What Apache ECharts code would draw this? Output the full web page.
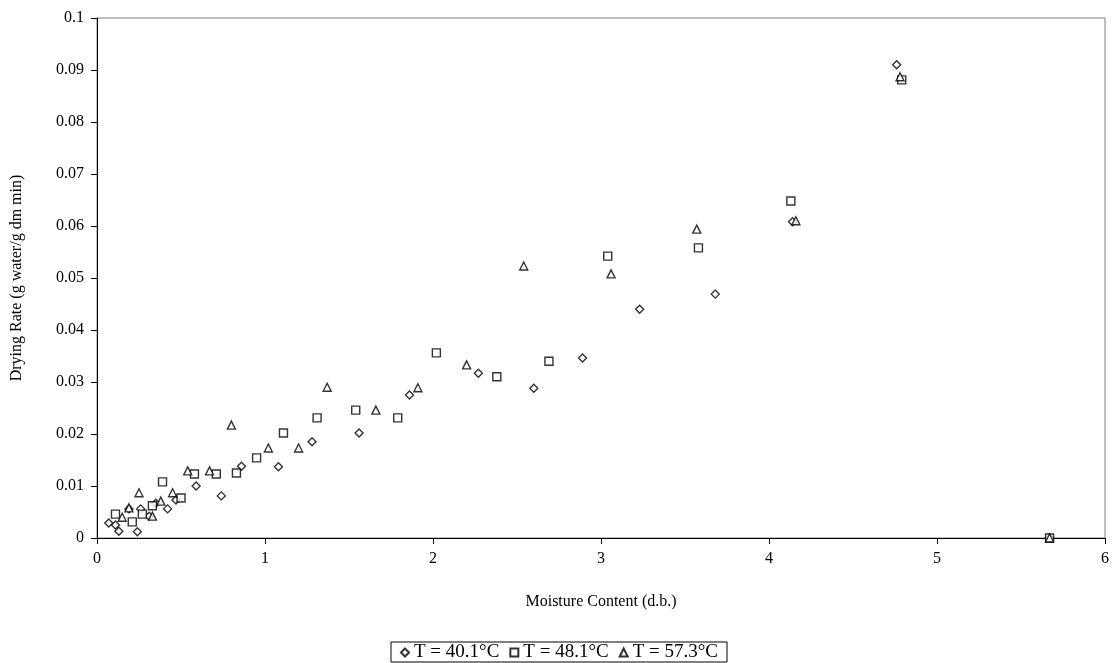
<!DOCTYPE html>
<html>
<head>
<meta charset="utf-8">
<script src="https://cdn.jsdelivr.net/npm/echarts@6/dist/echarts.min.js"></script>
<style>
html,body{margin:0;padding:0;background:#fff;}
#main{width:1118px;height:663px;}
</style>
</head>
<body>
<div id="main"></div>
<script>
// 数据 (Moisture Content, Drying Rate)
var seriesNames = ['T = 40.1°C', 'T = 48.1°C', 'T = 57.3°C'];
var t40 = [
  [0.07, 0.0029], [0.11, 0.0025], [0.13, 0.0013], [0.24, 0.0012], [0.19, 0.0056],
  [0.26, 0.0056], [0.31, 0.0042], [0.35, 0.0067], [0.42, 0.0056], [0.47, 0.0073],
  [0.59, 0.0100], [0.74, 0.0081], [0.86, 0.0138], [1.08, 0.0137], [1.28, 0.0185],
  [1.56, 0.0202], [1.86, 0.0275], [2.27, 0.0317], [2.60, 0.0288], [2.89, 0.0346],
  [3.23, 0.0440], [3.68, 0.0469], [4.14, 0.0608], [4.76, 0.0910], [5.67, 0]
];
var t48 = [
  [0.11, 0.0046], [0.21, 0.0031], [0.27, 0.0046], [0.33, 0.0062], [0.39, 0.0108],
  [0.50, 0.0077], [0.58, 0.0123], [0.71, 0.0123], [0.83, 0.0125], [0.95, 0.0154],
  [1.11, 0.0202], [1.31, 0.0231], [1.54, 0.0246], [1.79, 0.0231], [2.02, 0.0356],
  [2.38, 0.0310], [2.69, 0.0340], [3.04, 0.0542], [3.58, 0.0558], [4.13, 0.0648],
  [4.79, 0.0881], [5.67, 0]
];
var t57 = [
  [0.15, 0.0040], [0.19, 0.0058], [0.25, 0.0087], [0.33, 0.0042], [0.38, 0.0071],
  [0.45, 0.0087], [0.54, 0.0129], [0.67, 0.0129], [0.80, 0.0217], [1.02, 0.0173],
  [1.20, 0.0173], [1.37, 0.0290], [1.66, 0.0246], [1.91, 0.0289], [2.20, 0.0333],
  [2.54, 0.0523], [3.06, 0.0508], [3.57, 0.0594], [4.16, 0.0610], [4.78, 0.0887],
  [5.67, 0]
];

var myChart = echarts.init(document.getElementById('main'));
var font = '"Liberation Serif", "Times New Roman", serif';
var mk = {color: '#fff', borderColor: '#000', borderWidth: 1.4};

var option = {
  backgroundColor: '#fff',
  animation: false,
  textStyle: {fontFamily: font, color: '#000'},
  grid: {
    left: 97, right: 13, top: 18, bottom: 125,
    show: true, borderColor: '#808080', borderWidth: 1
  },
  legend: {
    bottom: 1,
    left: 'center',
    data: [
      {name: seriesNames[0], icon: 'diamond'},
      {name: seriesNames[1], icon: 'rect'},
      {name: seriesNames[2], icon: 'triangle'}
    ],
    itemWidth: 8, itemHeight: 8, itemGap: 10,
    borderColor: '#000', borderWidth: 1, borderRadius: 0,
    padding: [1, 9, 0, 9],
    textStyle: {fontFamily: font, fontSize: 19, color: '#000'}
  },
  xAxis: {
    type: 'value', min: 0, max: 6, interval: 1,
    name: 'Moisture Content (d.b.)', nameLocation: 'middle', nameGap: 56,
    nameTextStyle: {fontFamily: font, fontSize: 16, color: '#000'},
    axisLine: {show: true, onZero: false, lineStyle: {color: '#000', width: 1}},
    axisTick: {show: true, inside: false, length: 6, lineStyle: {color: '#000'}},
    axisLabel: {fontFamily: font, fontSize: 16, color: '#000', margin: 13},
    splitLine: {show: false}
  },
  yAxis: {
    type: 'value', min: 0, max: 0.1, interval: 0.01,
    name: 'Drying Rate (g water/g dm min)', nameLocation: 'middle', nameGap: 72,
    nameTextStyle: {fontFamily: font, fontSize: 16, color: '#000'},
    axisLine: {show: true, onZero: false, lineStyle: {color: '#000', width: 1}},
    axisTick: {show: true, inside: false, length: 6, lineStyle: {color: '#000'}},
    axisLabel: {fontFamily: font, fontSize: 16, color: '#000', margin: 13},
    splitLine: {show: false}
  },
  series: [
    {name: seriesNames[0], type: 'scatter', symbol: 'diamond', symbolSize: 8, itemStyle: mk, data: t40},
    {name: seriesNames[1], type: 'scatter', symbol: 'rect', symbolSize: 8, itemStyle: mk, data: t48},
    {name: seriesNames[2], type: 'scatter', symbol: 'triangle', symbolSize: 8, itemStyle: mk, data: t57}
  ]
};
myChart.setOption(option);
</script>
</body>
</html>
